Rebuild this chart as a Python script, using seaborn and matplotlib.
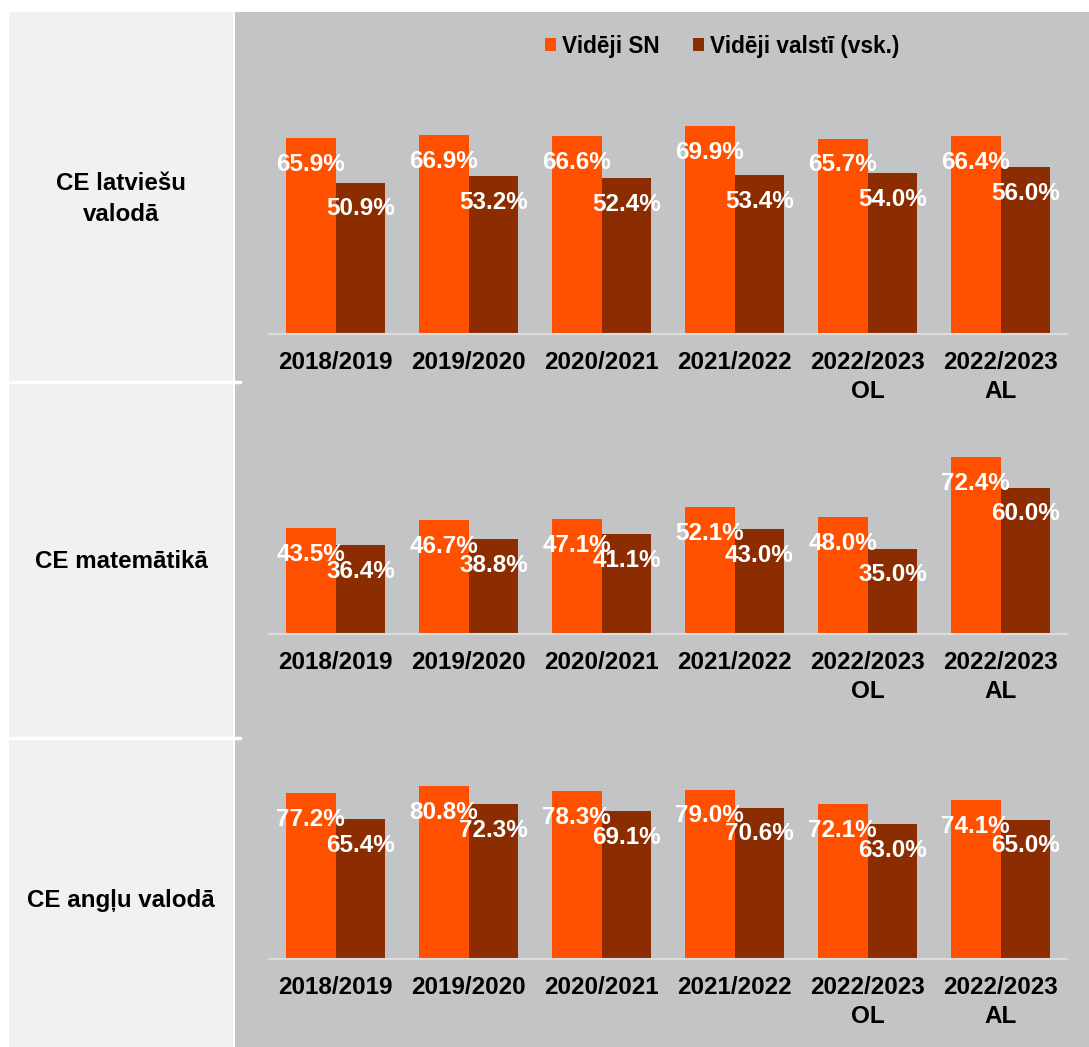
import matplotlib
matplotlib.use("Agg")
import matplotlib.pyplot as plt
import seaborn as sns
import pandas as pd
from matplotlib.patches import Rectangle, Patch
from matplotlib.lines import Line2D

# Data
categories = ["2018/2019", "2019/2020", "2020/2021", "2021/2022", "2022/2023\nOL", "2022/2023\nAL"]
series_names = ["Vidēji SN", "Vidēji valstī (vsk.)"]
row_labels = ["CE latviešu\nvalodā", "CE matemātikā", "CE angļu valodā"]

sn_latv = [65.9, 66.9, 66.6, 69.9, 65.7, 66.4]
valsts_latv = [50.9, 53.2, 52.4, 53.4, 54.0, 56.0]
sn_mat = [43.5, 46.7, 47.1, 52.1, 48.0, 72.4]
valsts_mat = [36.4, 38.8, 41.1, 43.0, 35.0, 60.0]
sn_angl = [77.2, 80.8, 78.3, 79.0, 72.1, 74.1]
valsts_angl = [65.4, 72.3, 69.1, 70.6, 63.0, 65.0]

colors = ["#FF5000", "#8B2D00"]
W, H = 1089, 1047

sns.set_theme(style="white")
plt.rcParams["font.family"] = ["Liberation Sans", "DejaVu Sans"]
plt.rcParams["text.color"] = "black"

fig = plt.figure(figsize=(W / 100, H / 100), dpi=100)
fig.patch.set_facecolor("white")

# backgrounds (pixel coords from top)
def px_rect(x0, y0, x1, y1, color):
    fig.add_artist(Rectangle((x0 / W, 1 - y1 / H), (x1 - x0) / W, (y1 - y0) / H,
                             transform=fig.transFigure, facecolor=color,
                             edgecolor="none", zorder=-5))

px_rect(9, 12, 233, H, "#F1F1F1")
px_rect(235, 12, W, H, "#C3C4C6")
for yy in (382, 738):
    fig.add_artist(Line2D([9 / W, 240 / W], [1 - yy / H, 1 - yy / H],
                          transform=fig.transFigure, color="white", lw=2.5, zorder=-4))

# panel geometry: (baseline, top, ymax, row label y)
panels = [
    (sn_latv, valsts_latv, 334, 60, 92.1, 199),
    (sn_mat, valsts_mat, 634, 410, 91.8, 562),
    (sn_angl, valsts_angl, 959, 770, 88.1, 900),
]

left_px, right_px = 269, 1067

for i, (sn, vs, base, top, ymax, label_y) in enumerate(panels):
    ax = fig.add_axes([left_px / W, 1 - base / H, (right_px - left_px) / W, (base - top) / H])
    ax.set_facecolor("none")
    df = pd.DataFrame({
        "cat": categories * 2,
        "val": sn + vs,
        "series": [series_names[0]] * len(categories) + [series_names[1]] * len(categories),
    })
    sns.barplot(data=df, x="cat", y="val", hue="series", palette=colors,
                width=0.75, saturation=1, legend=False, ax=ax, edgecolor="none")
    ax.set_xlim(-0.5, len(categories) - 0.5)
    ax.set_ylim(0, ymax)
    ax.set_xlabel("")
    ax.set_ylabel("")
    ax.set_yticks([])
    for s in ("top", "left", "right"):
        ax.spines[s].set_visible(False)
    ax.spines["bottom"].set_color("#DCDCDC")
    ax.spines["bottom"].set_linewidth(1.5)
    ax.tick_params(axis="x", length=0, pad=12)
    for t in ax.get_xticklabels():
        t.set_fontsize(17.5)
        t.set_fontweight("bold")
        t.set_color("black")
        t.set_linespacing(1.35)

    for cont in ax.containers:
        for bar in cont:
            h = bar.get_height()
            ax.annotate(f"{h:.1f}%", (bar.get_x() + bar.get_width() / 2, h),
                        xytext=(0, -19), textcoords="offset points",
                        ha="center", va="center", color="white",
                        fontsize=17.5, fontweight="bold", zorder=5)

    fig.text(121 / W, 1 - label_y / H, row_labels[i], ha="center", va="center",
             fontsize=17.4, fontweight="bold", color="black", linespacing=1.45)

handles = [Patch(facecolor=c, edgecolor="none") for c in colors]
fig.legend(handles, series_names, loc="center", bbox_to_anchor=(722 / W, 1 - 46 / H),
           ncol=2, frameon=False, handlelength=0.5, handleheight=0.5,
           handletextpad=0.25, columnspacing=1.5,
           prop={"weight": "bold", "size": 16.3})

fig.savefig("out.png", dpi=100)
